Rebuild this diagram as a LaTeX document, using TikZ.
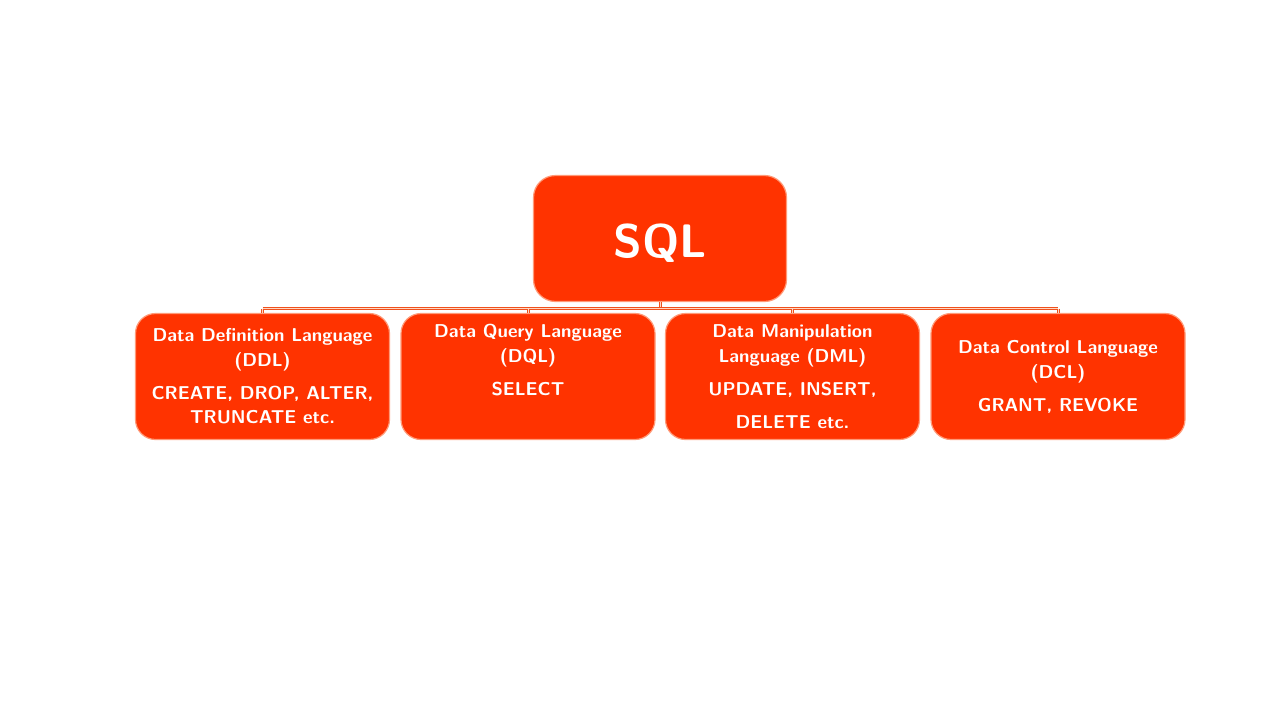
\documentclass[tikz,border=0pt]{standalone}
\definecolor{boxfill}{HTML}{FF3300}
\definecolor{boxedge}{HTML}{FF9A78}
\definecolor{linecol}{HTML}{F0501C}
\definecolor{lineinner}{HTML}{FFD8C4}
\tikzset{
  x=1pt,y=-1pt,
  box/.style={draw=boxedge, line width=1.2pt, fill=boxfill, rounded corners=20pt,
              minimum width=254pt, minimum height=126pt, inner sep=0pt},
  sqlbox/.style={box, minimum width=253pt, minimum height=126pt, rounded corners=22pt},
  lbl/.style={text=white, font=\fontsize{18.6}{21}\selectfont\sffamily\bfseries, anchor=base, inner sep=0pt},
  conn/.style={draw=linecol, line width=1pt, double=lineinner, double distance=1pt}
}
\begin{document}
\begin{tikzpicture}
\useasboundingbox (0,0) rectangle (1280,720);
\fill[white] (0,0) rectangle (1280,720);
% boxes
\node[sqlbox] (sql) at (660,238.5) {};
\node[box] (ddl) at (262.5,376.5) {};
\node[box] (dql) at (528,376.5) {};
\node[box] (dml) at (792.5,376.5) {};
\node[box] (dcl) at (1058,376.5) {};
% connectors
\coordinate (j) at (660,308.5);
\draw[conn] (sql.south) -- (j);
\draw[conn] (ddl.north |- j) -- (dcl.north |- j);
\foreach \n in {ddl,dql,dml,dcl} \draw[conn] (\n.north |- j) -- (\n.north);
% texts
\node[text=white, font=\fontsize{47}{52}\selectfont\sffamily\bfseries, anchor=base, inner sep=0pt] (sqlt) at (660,257.5) {SQL};
\node[lbl] (t1a) at (262.5,341.5) {Data Definition Language};
\node[lbl] (t1b) at (262.5,366.5) {(DDL)};
\node[lbl] (t1c) at (262.5,399.5) {CREATE, DROP, ALTER,};
\node[lbl] (t1d) at (262.5,423.5) {TRUNCATE etc.};
\node[lbl] (t2a) at (528,337.5) {Data Query Language};
\node[lbl] (t2b) at (528,362.5) {(DQL)};
\node[lbl] (t2c) at (528,395.5) {SELECT};
\node[lbl] (t3a) at (792.5,337.5) {Data Manipulation};
\node[lbl] (t3b) at (792.5,362.5) {Language (DML)};
\node[lbl] (t3c) at (792.5,395.5) {UPDATE, INSERT,};
\node[lbl] (t3d) at (792.5,428.5) {DELETE etc.};
\node[lbl] (t4a) at (1058,353.5) {Data Control Language};
\node[lbl] (t4b) at (1058,378.5) {(DCL)};
\node[lbl] (t4c) at (1058,411.5) {GRANT, REVOKE};
\end{tikzpicture}
\end{document}
